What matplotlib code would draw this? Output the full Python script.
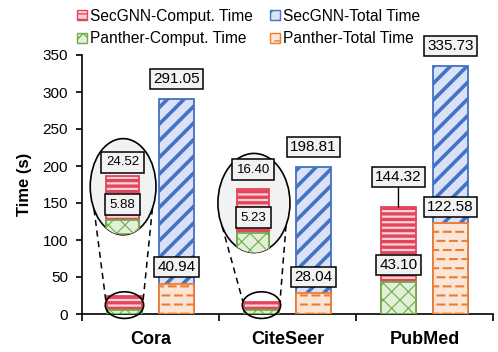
import numpy as np
import matplotlib
matplotlib.use("Agg")
import matplotlib.pyplot as plt
from matplotlib.patches import Ellipse, Patch
from matplotlib import hatch as mhatch
from matplotlib.path import Path

# data
datasets = ["Cora", "CiteSeer", "PubMed"]
secgnn_comput = [24.52, 16.40, 144.32]
secgnn_total = [291.05, 198.81, 335.73]
panther_comput = [5.88, 5.23, 43.10]
panther_total = [40.94, 28.04, 122.58]


# '|' hatch -> staggered short dashes (vertical hatch is not used here)
class DashRows(mhatch.HatchPatternBase):
    def __init__(self, hatch, density):
        n = hatch.count('|')
        self.rows = int(n * (2 * density - 1))
        self.cols = int(n * (density + 2))
        self.num_vertices = self.rows * self.cols * 2

    def set_vertices_and_codes(self, vertices, codes):
        k = 0
        for r in range(self.rows):
            y = (r + 0.5) / self.rows
            off = 0.5 if r % 2 else 0.0
            for c in range(self.cols):
                x0 = (c + off) / self.cols
                vertices[k] = (x0, y)
                vertices[k + 1] = (x0 + 0.55 / self.cols, y)
                codes[k] = Path.MOVETO
                codes[k + 1] = Path.LINETO
                k += 2


mhatch._hatch_types[1] = DashRows

plt.rcParams['font.family'] = ['Liberation Sans', 'DejaVu Sans']

red_e, red_f = '#E3455A', '#FAD4D9'
blue_e, blue_f = '#4472C4', '#DAE3F5'
green_e, green_f = '#70AD47', '#E2F0D9'
orange_e, orange_f = '#ED7D31', '#FBE5D6'

styles = {
    'sc': dict(facecolor=red_f, edgecolor=red_e, hatch='---', hlw=2.4),
    'st': dict(facecolor=blue_f, edgecolor=blue_e, hatch='//', hlw=2.6),
    'pc': dict(facecolor=green_f, edgecolor=green_e, hatch='xx', hlw=0.8),
    'pt': dict(facecolor=orange_f, edgecolor=orange_e, hatch='|', hlw=1.5),
}


def set_hlw(patches, lw):
    for p in patches:
        if hasattr(p, 'set_hatch_linewidth'):
            p.set_hatch_linewidth(lw)


def draw_bars(ax, x, h, key, width, bottom=0, z=2):
    st = styles[key]
    with plt.rc_context({'hatch.linewidth': st['hlw']}):
        bars = ax.bar(x, h, width, bottom=bottom, facecolor=st['facecolor'],
                      edgecolor=st['edgecolor'], hatch=st['hatch'], lw=1.3, zorder=z)
    set_hlw(bars, st['hlw'])
    return bars


def label(ax, x, y, txt, dy, fs=11, pad=0.2, line=False, z=8):
    kw = {}
    if line:
        kw['arrowprops'] = dict(arrowstyle='-', color='black', lw=1.0,
                                shrinkA=0, shrinkB=0)
    box = dict(boxstyle=f'square,pad={pad}', fc='#F2F2F2', ec='black', lw=1.1)
    ax.annotate(txt, (x, y), xytext=(0, dy), textcoords='offset points',
                ha='center', va='center', fontsize=fs, bbox=box, zorder=z,
                annotation_clip=False, **kw)


fig = plt.figure(figsize=(4.98, 3.52), dpi=100)
ax = fig.add_axes([82 / 498, 38 / 352, 411 / 498, 259 / 352])

idx = np.arange(len(datasets))
xc = idx + 0.31
xt = idx + 0.69
w = 0.25

draw_bars(ax, xt, secgnn_total, 'st', w, z=2)
draw_bars(ax, xt, panther_total, 'pt', w, z=3)
draw_bars(ax, xc, secgnn_comput, 'sc', w, z=2)
draw_bars(ax, xc, panther_comput, 'pc', w, z=3)

for i in idx:
    label(ax, xt[i], secgnn_total[i], f"{secgnn_total[i]:.2f}", 14)
    label(ax, xt[i], panther_total[i], f"{panther_total[i]:.2f}", 12)

# PubMed computation labels shown directly
label(ax, xc[2], secgnn_comput[2], f"{secgnn_comput[2]:.2f}", 22, line=True)
label(ax, xc[2], panther_comput[2], f"{panther_comput[2]:.2f}", 12)

# zoomed insets for Cora and CiteSeer
# (index, ellipse center x, center y, width, height, base, scale, red label offset)
insets = [(0, 0.30, 172, 0.48, 130, 108, 3.2, 10),
          (1, 1.255, 150, 0.526, 134, 82, 5.3, 14)]


def ell_pt(cx, cy, ew, eh, ang):
    a = np.deg2rad(ang)
    return cx + ew / 2 * np.cos(a), cy + eh / 2 * np.sin(a)


for i, cx, cy, ew, eh, base, sc, roff in insets:
    small = Ellipse((xc[i], 12), 0.28, 36, fc='none', ec='black', lw=1.2,
                    zorder=6, clip_on=False)
    ax.add_patch(small)
    big = Ellipse((cx, cy), ew, eh, fc='#F2F2F2', ec='black', lw=1.2, zorder=4)
    ax.add_patch(big)
    for a_big, a_small in [(208, 165), (333, 15)]:
        p1 = ell_pt(cx, cy, ew, eh, a_big)
        p2 = ell_pt(xc[i], 12, 0.28, 36, a_small)
        ax.plot([p1[0], p2[0]], [p1[1], p2[1]], color='black', lw=1.1,
                ls=(0, (4, 3)), zorder=6, clip_on=False)
    mx = cx - 0.005
    r = draw_bars(ax, [mx], [secgnn_comput[i] * sc], 'sc', 0.235, bottom=base, z=5)
    g = draw_bars(ax, [mx], [panther_comput[i] * sc], 'pc', 0.235, bottom=base, z=5.5)
    for p in list(r) + list(g):
        p.set_clip_path(big)
    label(ax, mx, base + secgnn_comput[i] * sc, f"{secgnn_comput[i]:.2f}", roff,
          fs=9.5, pad=0.35)
    label(ax, mx, base + panther_comput[i] * sc, f"{panther_comput[i]:.2f}", 11,
          fs=9.5, pad=0.35)

ax.set_xlim(0, 3)
ax.set_ylim(0, 350)
ax.set_yticks(np.arange(0, 351, 50))
ax.set_xticks([0, 1, 2, 3])
ax.set_xticklabels([])
ax.set_xticks(idx + 0.5, minor=True)
ax.set_xticklabels(datasets, minor=True, fontsize=13, fontweight='bold')
ax.tick_params(axis='x', which='minor', length=0, pad=12)
ax.tick_params(axis='x', which='major', length=5, width=1.2, direction='out')
ax.tick_params(axis='y', length=4, width=1.2, labelsize=11, pad=6)
for s in ['top', 'right']:
    ax.spines[s].set_visible(False)
for s in ['left', 'bottom']:
    ax.spines[s].set_linewidth(1.2)
ax.set_ylabel("Time (s)", fontsize=12, fontweight='bold', labelpad=8)

handles = []
for key in ['sc', 'pc', 'st', 'pt']:
    st = styles[key]
    handles.append(Patch(facecolor=st['facecolor'], edgecolor=st['edgecolor'],
                         hatch=st['hatch'], lw=1.0))
names = ["SecGNN-Comput. Time", "Panther-Comput. Time",
         "SecGNN-Total Time", "Panther-Total Time"]
fig.legend(handles, names, loc='upper left', bbox_to_anchor=(68 / 498, 1.0),
           ncol=2, frameon=False, fontsize=11.2, handlelength=0.65,
           handleheight=0.65, handletextpad=0.2, columnspacing=1.1,
           labelspacing=0.5, borderaxespad=0.15)

fig.savefig("out.png", dpi=100)
